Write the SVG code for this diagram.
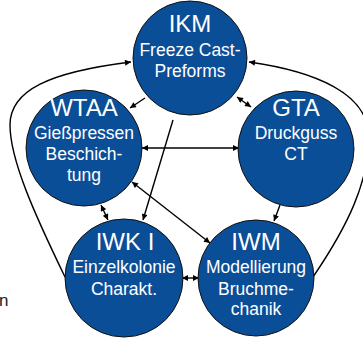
<svg xmlns="http://www.w3.org/2000/svg" width="363" height="342" viewBox="0 0 363 342">
  <defs>
    <marker id="arrow" viewBox="0 0 10 10" refX="10" refY="5" markerWidth="7" markerHeight="6" markerUnits="userSpaceOnUse" orient="auto-start-reverse">
      <path d="M0,0 L10,5 L0,10 z" fill="#000"/>
    </marker>
    <style>
      .node circle { fill: #0B4E98; stroke: #111; stroke-width: 1; }
      .node text { fill: #fff; font-family: "Liberation Sans", Arial, sans-serif; text-anchor: middle; }
      .title { font-size: 24px; }
      .sub { font-size: 17.5px; }
      .link { fill: none; stroke: #000; stroke-width: 1.4; }
      .one { marker-end: url(#arrow); }
      .two { marker-start: url(#arrow); marker-end: url(#arrow); }
      .side { font-family: "Liberation Sans", Arial, sans-serif; font-size: 17px; fill: #222; }
    </style>
  </defs>

  <text class="side" x="-1" y="306">n</text>

  <g id="connectors">
    <!-- outer loops into IKM -->
    <path class="link one" d="M65,277 C35,215 10,160 10,125 C10,90 50,72 131,62"/>
    <path class="link one" d="M313,277 C345,230 372,180 368,130 C364,95 320,72 249,62"/>
    <!-- IKM to WTAA and IWK I -->
    <path class="link one" d="M145,98 L130,108"/>
    <path class="link one" d="M173,120 L143,220"/>
    <!-- IKM and GTA -->
    <path class="link two" d="M237,97 L251,107"/>
    <!-- WTAA and GTA -->
    <path class="link two" d="M142,148 L239,148"/>
    <!-- WTAA and IWM -->
    <path class="link two" d="M132,182 L210,243"/>
    <!-- WTAA and IWK I -->
    <path class="link two" d="M101,205 L108,220"/>
    <!-- GTA to IWM -->
    <path class="link one" d="M280,205 L274,221"/>
    <!-- IWK I and IWM -->
    <path class="link two" d="M182,278 L199,278"/>
  </g>

  <g id="IKM" class="node">
    <circle cx="190" cy="58" r="57"/>
    <text class="title" x="190" y="32">IKM</text>
    <text class="sub" x="190" y="56">Freeze Cast-</text>
    <text class="sub" x="190" y="77">Preforms</text>
  </g>

  <g id="WTAA" class="node">
    <circle cx="84" cy="148" r="58"/>
    <text class="title" x="84" y="116">WTAA</text>
    <text class="sub" x="84" y="139">Gießpressen</text>
    <text class="sub" x="84" y="160">Beschich-</text>
    <text class="sub" x="84" y="181">tung</text>
  </g>

  <g id="GTA" class="node">
    <circle cx="296" cy="149" r="58"/>
    <text class="title" x="296" y="116">GTA</text>
    <text class="sub" x="296" y="139">Druckguss</text>
    <text class="sub" x="296" y="160">CT</text>
  </g>

  <g id="IWK-I" class="node">
    <circle cx="124" cy="278" r="59"/>
    <text class="title" x="125" y="250">IWK I</text>
    <text class="sub" x="124" y="273">Einzelkolonie</text>
    <text class="sub" x="124" y="295">Charakt.</text>
  </g>

  <g id="IWM" class="node">
    <circle cx="256" cy="278" r="58"/>
    <text class="title" x="256" y="250">IWM</text>
    <text class="sub" x="256" y="273">Modellierung</text>
    <text class="sub" x="256" y="295">Bruchme-</text>
    <text class="sub" x="256" y="315">chanik</text>
  </g>
</svg>
